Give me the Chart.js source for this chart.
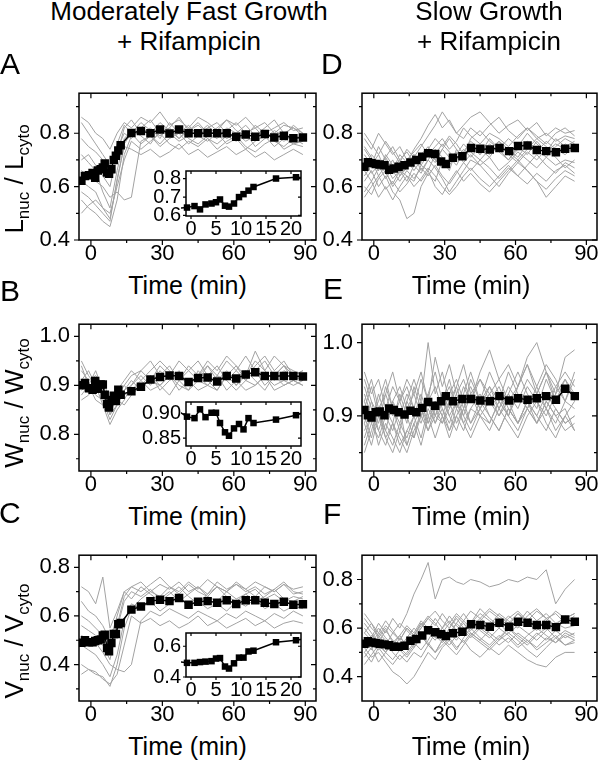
<!DOCTYPE html>
<html><head><meta charset="utf-8">
<script src="https://cdn.jsdelivr.net/npm/chart.js@4.4.1/dist/chart.umd.min.js"></script>
<style>
html,body{margin:0;padding:0;background:#fff;}
body{width:600px;height:762px;position:relative;overflow:hidden;font-family:'Liberation Sans',Arial,sans-serif;color:#000;}
canvas{position:absolute;}
.t{position:absolute;white-space:nowrap;}
.title{font-size:26px;line-height:30px;text-align:center;width:300px;top:-4px;}
.letter{font-size:30px;line-height:30px;}
.xt{font-size:25px;line-height:30px;width:200px;text-align:center;}
.yl{font-size:26px;line-height:30px;transform:translate(-50%,-50%) rotate(-90deg);}
.yl sub{font-size:17px;line-height:0;vertical-align:-6px;}
</style></head><body>
<script>
const FONT = "'Liberation Sans', Arial, sans-serif";

// ---------- time axes ----------
const tFast = [-4,-2.5,-0.8,0.7,1.8,2.9,4.1,5.0,5.8,6.8,7.6,8.6,9.6,10.5,11.5,12.5,17,21,25,29,33,37,41,45,49,53,57,61,65,69,73,77,81,85,89];
const tSlow = [-4,-2.5,-1,0.8,2.5,4.5,6.5,8.5,10.5,13,15.5,18,20.5,23,26,28.5,30.5,33.5,37.5,41.2,45.1,49.1,53.2,57.3,61.1,65.1,69,73,77.1,81,85.1];
const tFastGray = [-4,-1,2,5,8,11,14,17,21,25,29,33,37,41,45,49,53,57,61,65,69,73,77,81,85,89];
const tSlowGray = [-4,-1,2,5,8,11,14,17,20,23,26,29,32,35,38,41,45,49,53,57,61,65,69,73,77,81,85];

// ---------- mean series ----------
const aMean = [0.622,0.640,0.643,0.651,0.633,0.660,0.665,0.672,0.687,0.653,0.648,0.665,0.700,0.716,0.735,0.755,0.801,0.808,0.800,0.814,0.799,0.814,0.800,0.800,0.801,0.800,0.800,0.787,0.795,0.787,0.797,0.784,0.791,0.781,0.784];
const bMean = [0.900,0.905,0.894,0.891,0.909,0.893,0.902,0.902,0.881,0.862,0.855,0.870,0.879,0.868,0.891,0.881,0.888,0.897,0.912,0.917,0.920,0.919,0.907,0.915,0.916,0.908,0.919,0.914,0.922,0.927,0.919,0.919,0.919,0.919,0.918];
const cMean = [0.490,0.500,0.492,0.492,0.497,0.500,0.503,0.520,0.523,0.468,0.455,0.489,0.526,0.526,0.566,0.571,0.626,0.639,0.661,0.667,0.661,0.674,0.646,0.658,0.661,0.654,0.665,0.649,0.665,0.665,0.654,0.649,0.658,0.646,0.648];
const dMean = [0.674,0.691,0.688,0.685,0.683,0.680,0.663,0.668,0.674,0.680,0.690,0.700,0.712,0.725,0.722,0.694,0.685,0.708,0.714,0.745,0.742,0.739,0.745,0.733,0.752,0.754,0.737,0.733,0.729,0.742,0.745];
const eMean = [0.908,0.901,0.898,0.905,0.906,0.901,0.910,0.908,0.905,0.902,0.907,0.905,0.911,0.919,0.914,0.920,0.927,0.920,0.923,0.923,0.921,0.920,0.927,0.921,0.924,0.922,0.924,0.927,0.922,0.937,0.927];
const fMean = [0.536,0.546,0.541,0.539,0.536,0.533,0.529,0.523,0.523,0.527,0.548,0.555,0.570,0.591,0.583,0.575,0.567,0.579,0.585,0.616,0.613,0.606,0.622,0.606,0.626,0.622,0.613,0.613,0.604,0.635,0.626];

// ---------- individual cell traces (grey) ----------
const aGray = [
 [0.86,0.84,0.80,0.78,0.74,0.80,0.84,0.82,0.86,0.84,0.88,0.83,0.85,0.82,0.86,0.84,0.81,0.85,0.83,0.86,0.82,0.84,0.80,0.83,0.82,0.80],
 [0.70,0.72,0.68,0.64,0.60,0.72,0.82,0.85,0.80,0.82,0.78,0.84,0.80,0.83,0.79,0.82,0.84,0.80,0.78,0.81,0.79,0.82,0.85,0.80,0.78,0.79],
 [0.62,0.60,0.58,0.52,0.48,0.62,0.76,0.80,0.76,0.79,0.75,0.78,0.80,0.76,0.79,0.77,0.80,0.76,0.78,0.74,0.77,0.79,0.75,0.78,0.76,0.77],
 [0.55,0.52,0.50,0.47,0.45,0.55,0.72,0.79,0.82,0.80,0.84,0.81,0.78,0.82,0.80,0.83,0.79,0.81,0.84,0.80,0.82,0.78,0.81,0.79,0.83,0.80],
 [0.66,0.64,0.62,0.60,0.56,0.58,0.55,0.56,0.77,0.79,0.76,0.80,0.77,0.79,0.81,0.78,0.76,0.79,0.77,0.80,0.75,0.78,0.80,0.77,0.79,0.78],
 [0.78,0.75,0.73,0.70,0.66,0.74,0.80,0.78,0.82,0.85,0.80,0.82,0.86,0.81,0.83,0.80,0.82,0.85,0.81,0.79,0.83,0.80,0.82,0.84,0.81,0.82],
 [0.58,0.56,0.53,0.50,0.47,0.63,0.75,0.74,0.72,0.74,0.71,0.73,0.76,0.72,0.74,0.71,0.73,0.75,0.72,0.74,0.71,0.73,0.70,0.72,0.74,0.72],
 [0.72,0.69,0.66,0.58,0.52,0.66,0.78,0.81,0.79,0.76,0.81,0.79,0.82,0.78,0.76,0.79,0.81,0.78,0.80,0.77,0.79,0.81,0.77,0.75,0.78,0.76],
 [0.84,0.80,0.76,0.72,0.68,0.76,0.83,0.80,0.84,0.81,0.79,0.82,0.78,0.81,0.84,0.80,0.78,0.82,0.80,0.83,0.79,0.81,0.78,0.80,0.82,0.79],
 [0.50,0.53,0.55,0.52,0.50,0.60,0.70,0.77,0.74,0.77,0.80,0.76,0.74,0.77,0.75,0.78,0.74,0.77,0.79,0.75,0.73,0.76,0.78,0.74,0.76,0.75]
];
const bGray = [
 [0.93,0.91,0.92,0.90,0.86,0.88,0.90,0.92,0.93,0.95,0.92,0.94,0.91,0.93,0.95,0.92,0.94,0.91,0.93,0.96,0.93,0.95,0.92,0.94,0.93,0.92],
 [0.89,0.90,0.88,0.87,0.83,0.86,0.89,0.90,0.92,0.90,0.93,0.91,0.92,0.90,0.92,0.94,0.91,0.93,0.90,0.92,0.97,0.93,0.91,0.93,0.92,0.91],
 [0.91,0.93,0.90,0.89,0.85,0.87,0.88,0.89,0.91,0.89,0.90,0.92,0.89,0.91,0.89,0.90,0.92,0.89,0.91,0.89,0.90,0.92,0.89,0.90,0.91,0.90],
 [0.87,0.88,0.90,0.86,0.82,0.85,0.87,0.90,0.93,0.91,0.94,0.92,0.95,0.93,0.91,0.94,0.92,0.95,0.93,0.91,0.94,0.96,0.93,0.95,0.92,0.93],
 [0.90,0.89,0.91,0.88,0.84,0.88,0.90,0.88,0.90,0.92,0.89,0.91,0.93,0.90,0.92,0.90,0.89,0.92,0.90,0.93,0.91,0.89,0.92,0.90,0.91,0.90],
 [0.95,0.92,0.90,0.91,0.87,0.89,0.91,0.93,0.91,0.93,0.95,0.93,0.91,0.94,0.92,0.95,0.93,0.96,0.94,0.92,0.95,0.93,0.96,0.94,0.92,0.93],
 [0.88,0.90,0.87,0.86,0.85,0.87,0.86,0.88,0.90,0.91,0.90,0.92,0.90,0.89,0.91,0.90,0.92,0.91,0.89,0.91,0.90,0.92,0.90,0.91,0.90,0.91],
 [0.94,0.90,0.93,0.89,0.84,0.86,0.89,0.91,0.89,0.92,0.90,0.88,0.91,0.89,0.93,0.91,0.89,0.92,0.94,0.91,0.93,0.90,0.92,0.94,0.91,0.92]
];
const cGray = [
 [0.72,0.70,0.65,0.76,0.55,0.62,0.70,0.72,0.74,0.70,0.73,0.71,0.74,0.70,0.72,0.69,0.74,0.71,0.73,0.70,0.72,0.69,0.71,0.74,0.70,0.69],
 [0.56,0.54,0.52,0.48,0.42,0.55,0.66,0.70,0.68,0.71,0.67,0.70,0.66,0.69,0.72,0.68,0.66,0.70,0.67,0.69,0.66,0.68,0.71,0.67,0.66,0.68],
 [0.48,0.46,0.44,0.40,0.35,0.44,0.58,0.65,0.63,0.66,0.62,0.65,0.68,0.64,0.66,0.63,0.65,0.62,0.66,0.64,0.67,0.63,0.65,0.62,0.64,0.63],
 [0.40,0.38,0.36,0.35,0.31,0.40,0.55,0.63,0.67,0.70,0.68,0.72,0.69,0.73,0.70,0.68,0.72,0.70,0.74,0.71,0.68,0.72,0.70,0.73,0.69,0.70],
 [0.52,0.50,0.49,0.45,0.40,0.38,0.37,0.40,0.58,0.62,0.60,0.63,0.61,0.59,0.62,0.60,0.58,0.61,0.59,0.62,0.60,0.58,0.61,0.59,0.62,0.60],
 [0.60,0.58,0.55,0.52,0.46,0.56,0.68,0.72,0.70,0.73,0.76,0.72,0.70,0.74,0.71,0.75,0.72,0.70,0.73,0.71,0.74,0.72,0.70,0.73,0.71,0.72],
 [0.36,0.38,0.37,0.34,0.32,0.36,0.48,0.60,0.57,0.59,0.56,0.58,0.55,0.57,0.60,0.56,0.58,0.55,0.57,0.59,0.56,0.58,0.55,0.57,0.58,0.57],
 [0.66,0.62,0.60,0.56,0.50,0.60,0.70,0.67,0.72,0.69,0.66,0.69,0.72,0.68,0.65,0.69,0.72,0.68,0.66,0.69,0.71,0.67,0.69,0.66,0.68,0.67]
];
const dGray = [
 [0.72,0.68,0.75,0.70,0.66,0.72,0.69,0.74,0.78,0.83,0.87,0.82,0.85,0.80,0.83,0.86,0.88,0.84,0.80,0.83,0.85,0.81,0.84,0.79,0.82,0.80,0.81],
 [0.62,0.66,0.60,0.64,0.58,0.55,0.48,0.50,0.60,0.65,0.62,0.70,0.66,0.74,0.70,0.76,0.72,0.78,0.74,0.70,0.75,0.72,0.77,0.73,0.76,0.74,0.75],
 [0.78,0.74,0.80,0.76,0.72,0.75,0.70,0.73,0.76,0.72,0.75,0.78,0.74,0.77,0.82,0.79,0.76,0.80,0.78,0.75,0.79,0.82,0.78,0.80,0.77,0.79,0.78],
 [0.66,0.70,0.64,0.68,0.63,0.66,0.62,0.68,0.65,0.70,0.67,0.63,0.58,0.62,0.66,0.70,0.68,0.64,0.60,0.65,0.69,0.66,0.62,0.56,0.60,0.64,0.62],
 [0.58,0.62,0.56,0.60,0.55,0.60,0.64,0.62,0.68,0.72,0.69,0.74,0.71,0.68,0.73,0.77,0.74,0.71,0.76,0.73,0.70,0.74,0.78,0.75,0.72,0.76,0.74],
 [0.70,0.65,0.68,0.63,0.67,0.70,0.73,0.69,0.72,0.75,0.70,0.67,0.70,0.73,0.69,0.72,0.68,0.71,0.66,0.69,0.73,0.70,0.67,0.71,0.68,0.70,0.69],
 [0.64,0.68,0.72,0.66,0.70,0.64,0.67,0.71,0.68,0.66,0.72,0.76,0.73,0.70,0.74,0.71,0.75,0.72,0.77,0.74,0.71,0.76,0.73,0.77,0.74,0.72,0.75],
 [0.75,0.71,0.66,0.72,0.68,0.65,0.70,0.66,0.70,0.74,0.78,0.75,0.79,0.76,0.72,0.78,0.81,0.77,0.74,0.78,0.75,0.80,0.76,0.73,0.78,0.75,0.77],
 [0.68,0.72,0.69,0.65,0.61,0.66,0.64,0.60,0.63,0.67,0.64,0.60,0.57,0.60,0.64,0.67,0.63,0.60,0.64,0.68,0.64,0.61,0.65,0.62,0.66,0.68,0.65],
 [0.60,0.57,0.63,0.66,0.60,0.64,0.68,0.72,0.66,0.70,0.74,0.71,0.68,0.72,0.76,0.73,0.70,0.74,0.77,0.72,0.69,0.73,0.70,0.74,0.71,0.67,0.70],
 [0.80,0.76,0.72,0.77,0.73,0.69,0.74,0.71,0.75,0.79,0.83,0.88,0.84,0.80,0.78,0.82,0.79,0.83,0.86,0.81,0.78,0.82,0.79,0.76,0.80,0.82,0.79],
 [0.56,0.60,0.64,0.59,0.62,0.58,0.61,0.65,0.62,0.66,0.60,0.57,0.62,0.66,0.62,0.65,0.61,0.58,0.62,0.66,0.70,0.66,0.62,0.59,0.63,0.66,0.64],
 [0.74,0.70,0.66,0.71,0.75,0.70,0.67,0.72,0.69,0.73,0.70,0.74,0.78,0.74,0.71,0.75,0.72,0.76,0.73,0.70,0.74,0.77,0.74,0.71,0.75,0.78,0.76],
 [0.66,0.62,0.67,0.71,0.66,0.62,0.66,0.63,0.67,0.64,0.68,0.64,0.61,0.65,0.69,0.66,0.70,0.67,0.63,0.67,0.64,0.68,0.72,0.68,0.65,0.69,0.67]
];
const eGray = [
 [0.96,0.93,0.95,0.91,0.94,0.92,0.95,0.93,0.96,0.92,0.98,0.94,0.97,0.93,0.95,0.92,0.96,0.99,0.95,0.97,0.94,0.98,1.00,0.96,0.93,0.98,0.99],
 [0.88,0.90,0.86,0.89,0.87,0.85,0.88,0.90,0.87,0.91,0.89,0.92,0.90,0.88,0.91,0.89,0.92,0.90,0.88,0.91,0.89,0.92,0.90,0.88,0.91,0.89,0.90],
 [0.92,0.89,0.93,0.90,0.92,0.94,0.91,0.93,0.90,0.93,0.96,0.92,0.94,0.91,0.94,0.92,0.95,0.93,0.91,0.94,0.92,0.95,0.93,0.96,0.94,0.92,0.95],
 [0.90,0.87,0.91,0.88,0.86,0.89,0.87,0.90,0.92,0.89,0.91,0.93,0.90,0.92,0.89,0.91,0.90,0.92,0.94,0.91,0.89,0.92,0.90,0.93,0.91,0.89,0.90],
 [0.94,0.91,0.89,0.93,0.90,0.92,0.89,0.94,0.91,0.93,0.90,0.92,0.95,0.91,0.93,0.96,0.92,0.94,0.91,0.93,0.96,0.93,0.91,0.95,0.92,0.94,0.93],
 [0.86,0.89,0.87,0.90,0.88,0.91,0.86,0.89,0.91,0.88,0.90,0.89,0.91,0.93,0.90,0.88,0.91,0.89,0.92,0.90,0.88,0.91,0.89,0.92,0.90,0.91,0.88],
 [0.91,0.94,0.90,0.88,0.92,0.90,0.93,0.91,0.89,0.92,0.94,0.91,0.89,0.92,0.90,0.93,0.95,0.92,0.90,0.93,0.91,0.94,0.92,0.90,0.93,0.95,0.92],
 [0.89,0.86,0.90,0.87,0.89,0.86,0.88,0.87,0.90,0.92,0.89,0.91,0.88,0.90,0.92,0.89,0.91,0.93,0.90,0.92,0.89,0.91,0.93,0.91,0.89,0.92,0.91],
 [0.93,0.90,0.92,0.95,0.91,0.89,0.92,0.90,0.93,0.90,0.92,0.90,0.93,0.95,0.92,0.94,0.91,0.93,0.95,0.92,0.94,0.97,0.94,0.91,0.94,0.96,0.94],
 [0.87,0.90,0.88,0.86,0.89,0.87,0.85,0.88,0.90,0.88,0.91,0.89,0.92,0.89,0.91,0.93,0.90,0.89,0.92,0.90,0.93,0.91,0.89,0.92,0.90,0.88,0.89],
 [0.95,0.92,0.90,0.94,0.91,0.88,0.92,0.95,0.92,1.00,0.93,0.96,0.92,0.94,0.91,0.95,0.92,0.96,0.93,0.90,0.94,0.97,0.93,0.96,0.92,0.95,0.93],
 [0.85,0.88,0.91,0.87,0.85,0.88,0.86,0.89,0.86,0.90,0.87,0.90,0.88,0.91,0.89,0.87,0.90,0.88,0.91,0.89,0.87,0.90,0.92,0.89,0.87,0.90,0.88],
 [0.92,0.95,0.91,0.93,0.96,0.92,0.94,0.91,0.95,0.92,0.90,0.93,0.91,0.94,0.97,0.93,0.91,0.94,0.92,0.96,0.93,0.91,0.94,0.97,0.95,0.92,0.96],
 [0.89,0.92,0.88,0.91,0.89,0.93,0.90,0.87,0.91,0.89,0.92,0.90,0.87,0.90,0.88,0.91,0.93,0.90,0.88,0.91,0.89,0.92,0.89,0.91,0.88,0.90,0.92]
];
const fGray = [
 [0.60,0.56,0.62,0.58,0.64,0.60,0.66,0.74,0.80,0.87,0.72,0.80,0.81,0.79,0.78,0.80,0.79,0.77,0.78,0.80,0.79,0.81,0.80,0.84,0.70,0.76,0.80],
 [0.52,0.48,0.50,0.46,0.42,0.40,0.37,0.40,0.45,0.50,0.47,0.52,0.55,0.51,0.56,0.60,0.56,0.53,0.57,0.54,0.58,0.55,0.52,0.56,0.54,0.57,0.55],
 [0.58,0.62,0.56,0.60,0.54,0.57,0.52,0.56,0.60,0.64,0.61,0.66,0.62,0.59,0.63,0.67,0.64,0.61,0.66,0.63,0.60,0.65,0.68,0.64,0.61,0.65,0.63],
 [0.48,0.52,0.46,0.50,0.47,0.51,0.55,0.52,0.57,0.54,0.50,0.53,0.56,0.52,0.55,0.51,0.48,0.52,0.49,0.53,0.50,0.47,0.45,0.44,0.48,0.50,0.50],
 [0.55,0.51,0.57,0.53,0.58,0.55,0.60,0.57,0.62,0.59,0.64,0.60,0.57,0.62,0.66,0.62,0.68,0.64,0.61,0.65,0.62,0.67,0.63,0.66,0.62,0.64,0.66],
 [0.62,0.58,0.54,0.59,0.55,0.52,0.56,0.60,0.57,0.53,0.58,0.55,0.60,0.64,0.60,0.57,0.61,0.58,0.55,0.60,0.57,0.54,0.58,0.55,0.59,0.56,0.58],
 [0.50,0.54,0.58,0.55,0.51,0.56,0.53,0.57,0.62,0.58,0.55,0.60,0.65,0.61,0.58,0.62,0.66,0.63,0.60,0.64,0.67,0.63,0.60,0.64,0.66,0.62,0.65],
 [0.56,0.53,0.51,0.55,0.50,0.47,0.50,0.54,0.51,0.55,0.60,0.56,0.53,0.57,0.54,0.58,0.55,0.52,0.56,0.60,0.56,0.53,0.57,0.60,0.56,0.59,0.57],
 [0.45,0.49,0.53,0.50,0.54,0.51,0.48,0.52,0.56,0.60,0.57,0.54,0.58,0.62,0.59,0.56,0.60,0.57,0.53,0.56,0.52,0.55,0.51,0.54,0.57,0.53,0.55],
 [0.64,0.60,0.57,0.61,0.58,0.62,0.59,0.56,0.60,0.64,0.67,0.63,0.60,0.65,0.62,0.59,0.63,0.67,0.64,0.61,0.66,0.62,0.59,0.63,0.67,0.64,0.66],
 [0.66,0.62,0.58,0.63,0.59,0.55,0.60,0.57,0.61,0.65,0.62,0.58,0.62,0.66,0.63,0.60,0.64,0.68,0.65,0.62,0.66,0.63,0.67,0.64,0.60,0.63,0.61],
 [0.50,0.46,0.52,0.48,0.45,0.49,0.46,0.50,0.48,0.53,0.50,0.55,0.52,0.49,0.53,0.57,0.54,0.51,0.55,0.58,0.55,0.51,0.48,0.52,0.56,0.53,0.54],
 [0.58,0.55,0.60,0.56,0.53,0.57,0.61,0.58,0.63,0.60,0.56,0.60,0.63,0.59,0.62,0.58,0.55,0.59,0.62,0.58,0.61,0.58,0.55,0.59,0.62,0.60,0.61],
 [0.53,0.57,0.54,0.50,0.55,0.52,0.49,0.53,0.57,0.53,0.50,0.55,0.58,0.55,0.59,0.63,0.59,0.56,0.60,0.57,0.53,0.57,0.60,0.57,0.54,0.58,0.56]
];

// ---------- tick labels ----------
const xTicks = [0,30,60,90];
const xMinorTicks = [15,45,75];
const insetXTicks = [0,5,10,15,20];
const aYTicks = [0.4,0.6,0.8], aYMinor = [0.5,0.7,0.9];
const bYTicks = [0.8,0.9,1.0], bYMinor = [0.75,0.85,0.95];
const cYTicks = [0.4,0.6,0.8], cYMinor = [0.3,0.5,0.7];
const dYTicks = [0.4,0.6,0.8], dYMinor = [0.5,0.7,0.9];
const eYTicks = [0.9,1.0], eYMinor = [0.85,0.95];
const fYTicks = [0.4,0.6,0.8], fYMinor = [0.5,0.7];
const aInsetY = [0.6,0.7,0.8];
const bInsetY = [0.85,0.90];
const cInsetY = [0.4,0.6];

function framePlugin(o) {
  return {
    id: 'frame',
    beforeDraw(chart) {
      if (!o.fill) return;
      const c = chart.ctx, r = chart.chartArea;
      c.save(); c.fillStyle = '#fff';
      c.fillRect(r.left, r.top, r.right - r.left, r.bottom - r.top);
      c.restore();
    },
    afterDraw(chart) {
      const c = chart.ctx, r = chart.chartArea, x = chart.scales.x, y = chart.scales.y;
      c.save(); c.strokeStyle = '#000'; c.lineWidth = 1.2; c.beginPath();
      const tx = (v, len) => { const p = x.getPixelForValue(v);
        c.moveTo(p, r.bottom); c.lineTo(p, r.bottom + len);
        c.moveTo(p, r.top); c.lineTo(p, r.top + len); };
      const ty = (v, len) => { const p = y.getPixelForValue(v);
        c.moveTo(r.left, p); c.lineTo(r.left - len, p);
        c.moveTo(r.right, p); c.lineTo(r.right - len, p); };
      o.xMajor.forEach(v => tx(v, o.major)); (o.xMinor || []).forEach(v => tx(v, o.minor));
      o.yMajor.forEach(v => ty(v, o.major)); (o.yMinor || []).forEach(v => ty(v, o.minor));
      c.stroke();
      c.lineWidth = 1.5;
      c.strokeRect(r.left, r.top, r.right - r.left, r.bottom - r.top);
      c.restore();
    }
  };
}

function makeChart(o) {
  const cv = document.createElement('canvas');
  const w = (o.R - o.L) + o.axisW + o.padR, h = (o.B - o.T) + o.padT + o.axisH;
  cv.width = w; cv.height = h;
  cv.style.left = (o.L - o.axisW) + 'px'; cv.style.top = (o.T - o.padT) + 'px';
  cv.style.width = w + 'px'; cv.style.height = h + 'px';
  document.body.appendChild(cv);
  const datasets = [{
    data: o.tMean.map((t, i) => ({x: t, y: o.mean[i]})),
    borderColor: '#000', borderWidth: 1.5, pointStyle: 'rect', pointRadius: o.r,
    pointBackgroundColor: '#000', pointBorderColor: '#000', pointBorderWidth: 0,
    tension: 0, order: 0, clip: o.clip
  }];
  (o.grays || []).forEach(g => datasets.push({
    data: g.map((v, i) => ({x: o.tGray[i], y: v})).filter(p => p.x !== undefined),
    borderColor: '#a2a2a2', borderWidth: 1, pointRadius: 0, tension: 0, order: 1
  }));
  const yFmt = o.yFmt;
  new Chart(cv, {
    type: 'line',
    data: {datasets},
    plugins: [framePlugin({xMajor: o.xMajor, xMinor: o.xMinor, yMajor: o.yMajor, yMinor: o.yMinor, major: o.tl, minor: o.tlm, fill: o.fill})],
    options: {
      responsive: false, animation: false, events: [],
      layout: {padding: {left: 0, top: o.padT, right: o.padR, bottom: 0}},
      plugins: {legend: {display: false}, tooltip: {enabled: false}},
      scales: {
        x: {type: 'linear', min: o.xMin, max: o.xMax,
          afterBuildTicks: s => { s.ticks = o.xMajor.map(v => ({value: v})); },
          afterFit: s => { s.height = o.axisH; },
          grid: {display: false, drawTicks: false}, border: {display: false},
          ticks: {font: {family: FONT, size: o.fs}, color: '#000', padding: o.xPad, maxRotation: 0, autoSkip: false, callback: v => String(v)}},
        y: {type: 'linear', min: o.yMin, max: o.yMax,
          afterBuildTicks: s => { s.ticks = o.yMajor.map(v => ({value: v})); },
          afterFit: s => { s.width = o.axisW; },
          grid: {display: false, drawTicks: false}, border: {display: false},
          ticks: {font: {family: FONT, size: o.fs}, color: '#000', padding: o.yPad, autoSkip: false, callback: v => yFmt(v)}}
      }
    }
  });
}

const f1 = v => v.toFixed(1), f2 = v => v.toFixed(2);
const mainBase = {axisW: 62, padT: 8, padR: 8, axisH: 30, xMin: -5, xMax: 94.5, xMajor: xTicks, xMinor: xMinorTicks,
  tl: 5, tlm: 3, fs: 22, xPad: 1, yPad: 9, r: 6, fill: false};
const insetBase = {axisW: 46, padT: 6, padR: 6, axisH: 26, xMin: -1, xMax: 22, xMajor: insetXTicks, xMinor: [],
  tl: 3, tlm: 2, fs: 20, xPad: 1, yPad: 5, r: 4.6, fill: true, clip: {left: 5, top: 5, right: 0, bottom: 5}};

// main panels
makeChart(Object.assign({}, mainBase, {L: 79, T: 79, R: 316, B: 240, yMin: 0.4, yMax: 0.95, yMajor: aYTicks, yMinor: aYMinor, yFmt: f1, tMean: tFast, mean: aMean, tGray: tFastGray, grays: aGray}));
makeChart(Object.assign({}, mainBase, {L: 79, T: 310, R: 316, B: 471, yMin: 0.725, yMax: 1.025, yMajor: bYTicks, yMinor: bYMinor, yFmt: f1, tMean: tFast, mean: bMean, tGray: tFastGray, grays: bGray}));
makeChart(Object.assign({}, mainBase, {L: 79, T: 541, R: 316, B: 701, yMin: 0.25, yMax: 0.85, yMajor: cYTicks, yMinor: cYMinor, yFmt: f1, tMean: tFast, mean: cMean, tGray: tFastGray, grays: cGray}));
makeChart(Object.assign({}, mainBase, {L: 362, T: 79, R: 597, B: 240, yMin: 0.4, yMax: 0.95, yMajor: dYTicks, yMinor: dYMinor, yFmt: f1, tMean: tSlow, mean: dMean, tGray: tSlowGray, grays: dGray}));
makeChart(Object.assign({}, mainBase, {L: 362, T: 310, R: 597, B: 471, yMin: 0.825, yMax: 1.025, yMajor: eYTicks, yMinor: eYMinor, yFmt: f1, tMean: tSlow, mean: eMean, tGray: tSlowGray, grays: eGray}));
makeChart(Object.assign({}, mainBase, {L: 362, T: 541, R: 597, B: 701, yMin: 0.3, yMax: 0.9, yMajor: fYTicks, yMinor: fYMinor, yFmt: f1, tMean: tSlow, mean: fMean, tGray: tSlowGray, grays: fGray}));
// insets
makeChart(Object.assign({}, insetBase, {L: 186, T: 160, R: 301, B: 216, yMin: 0.597, yMax: 0.842, yMajor: aInsetY, yMinor: [], yFmt: f1, tMean: tFast, mean: aMean}));
makeChart(Object.assign({}, insetBase, {L: 186, T: 391, R: 301, B: 446, yMin: 0.834, yMax: 0.924, yMajor: bInsetY, yMinor: [], yFmt: f2, tMean: tFast, mean: bMean}));
makeChart(Object.assign({}, insetBase, {L: 186, T: 622, R: 301, B: 677, yMin: 0.4, yMax: 0.686, yMajor: cInsetY, yMinor: [], yFmt: f1, tMean: tFast, mean: cMean}));

// ---------- text ----------
function addText(cls, html, left, top) {
  const d = document.createElement('div');
  d.className = 't ' + cls; d.innerHTML = html;
  d.style.left = left + 'px'; d.style.top = top + 'px';
  document.body.appendChild(d);
}
addText('title', 'Moderately Fast Growth<br>+ Rifampicin', 39, -4);
addText('title', 'Slow Growth<br>+ Rifampicin', 339, -4);
addText('letter', 'A', 0, 49);
addText('letter', 'B', 0, 276);
addText('letter', 'C', -1, 498);
addText('letter', 'D', 321, 49);
addText('letter', 'E', 323, 274);
addText('letter', 'F', 323, 499);
[270, 501, 731].forEach(t => addText('xt', 'Time (min)', 87.5, t));
[270, 501, 731].forEach(t => addText('xt', 'Time (min)', 371, t));
addText('yl', 'L<sub>nuc</sub> / L<sub>cyto</sub>', 14, 179);
addText('yl', 'W<sub>nuc</sub> / W<sub>cyto</sub>', 14, 403);
addText('yl', 'V<sub>nuc</sub> / V<sub>cyto</sub>', 14, 641);
</script>
</body></html>
